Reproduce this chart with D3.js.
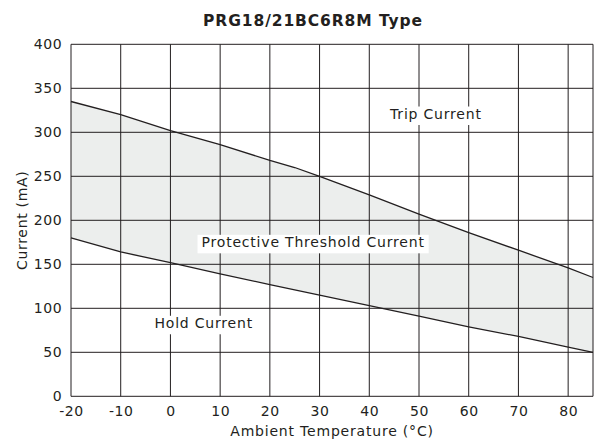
<!DOCTYPE html>
<html>
<head>
<meta charset="utf-8">
<script src="https://cdn.jsdelivr.net/npm/d3@7"></script>
<style>
  html, body { margin: 0; padding: 0; background: #fff; }
  svg { display: block; }
  text { font-family: "DejaVu Sans", sans-serif; fill: #231f20; }
</style>
</head>
<body>
<div id="chart"></div>
<script>
// ---- data ----
const tempTicks = [-20, -10, 0, 10, 20, 30, 40, 50, 60, 70, 80];
const currentTicks = [0, 50, 100, 150, 200, 250, 300, 350, 400];
const tripTemp    = [-20, -10, 0, 10, 20, 25, 30, 40, 50, 60, 70, 80, 85];
const tripCurrent = [335, 320, 302, 286, 268, 260, 250, 229, 207, 186, 166, 146, 135];
const holdTemp    = [-20, -10, 0, 10, 20, 30, 40, 50, 60, 70, 80, 85];
const holdCurrent = [180, 164, 152, 139, 127, 115, 103, 91, 79, 68, 56, 50];
const title = "PRG18/21BC6R8M Type";
const xTitle = "Ambient Temperature (°C)";
const yTitle = "Current (mA)";
const regionLabels = ["Trip Current", "Protective Threshold Current", "Hold Current"];

// ---- layout ----
const W = 597, H = 446;
const m = { left: 71, right: 4, top: 44.3, bottom: 49.7 };
const ink = "#231f20";

const svg = d3.select("#chart").append("svg").attr("width", W).attr("height", H);

const x = d3.scaleLinear().domain([-20, 85]).range([m.left, W - m.right]);
const y = d3.scaleLinear().domain([0, 400]).range([H - m.bottom, m.top]);

const trip = tripTemp.map((t, i) => ({ t, v: tripCurrent[i] }));
const hold = holdTemp.map((t, i) => ({ t, v: holdCurrent[i] }));

// shaded band between hold and trip
const bandTemps = Array.from(new Set([...tripTemp, ...holdTemp])).sort((a, b) => a - b);
const interp = (arr, t) => {
  for (let i = 0; i < arr.length - 1; i++) {
    if (t >= arr[i].t && t <= arr[i + 1].t) {
      const f = (t - arr[i].t) / (arr[i + 1].t - arr[i].t);
      return arr[i].v + f * (arr[i + 1].v - arr[i].v);
    }
  }
  return arr[arr.length - 1].v;
};
const band = bandTemps.map(t => ({ t, hi: interp(trip, t), lo: interp(hold, t) }));
svg.append("path")
  .datum(band)
  .attr("fill", "#eceeed")
  .attr("d", d3.area().x(d => x(d.t)).y0(d => y(d.lo)).y1(d => y(d.hi)));

// grid
const grid = svg.append("g").attr("stroke", ink).attr("stroke-width", 1);
grid.selectAll("line.v").data(tempTicks.concat([85])).join("line")
  .attr("x1", d => x(d)).attr("x2", d => x(d))
  .attr("y1", y(0)).attr("y2", y(400));
grid.selectAll("line.h").data(currentTicks).join("line")
  .attr("x1", x(-20)).attr("x2", x(85))
  .attr("y1", d => y(d)).attr("y2", d => y(d));

// data lines
const line = d3.line().x(d => x(d.t)).y(d => y(d.v));
[trip, hold].forEach(s => {
  svg.append("path").datum(s)
    .attr("fill", "none").attr("stroke", ink).attr("stroke-width", 1.3)
    .attr("d", line);
});

// axes (labels only)
const xAxis = svg.append("g")
  .attr("transform", `translate(0,${y(0)})`)
  .call(d3.axisBottom(x).tickValues(tempTicks).tickSize(0).tickPadding(9.8).tickFormat(d3.format("d")));
const yAxis = svg.append("g")
  .attr("transform", `translate(${x(-20)},0)`)
  .call(d3.axisLeft(y).tickValues(currentTicks).tickSize(0).tickPadding(8.7));
[xAxis, yAxis].forEach(a => {
  a.select(".domain").remove();
  a.selectAll("text")
    .style("font-family", '"DejaVu Sans", sans-serif')
    .style("font-size", "14px")
    .style("letter-spacing", "0.6px")
    .attr("fill", ink);
});
xAxis.selectAll("text").text(d => d < 0 ? "-" + Math.abs(d) : d);

// titles
svg.append("text")
  .attr("x", 313).attr("y", 26.4)
  .attr("text-anchor", "middle")
  .style("font-size", "15.5px").style("font-weight", "bold").style("letter-spacing", "0.9px")
  .text(title);

svg.append("text")
  .attr("x", (x(-20) + x(85)) / 2).attr("y", 436)
  .attr("text-anchor", "middle")
  .style("font-size", "14px").style("letter-spacing", "0.8px")
  .text(xTitle);

svg.append("text")
  .attr("transform", `translate(26.5,${(y(0) + y(400)) / 2}) rotate(-90)`)
  .attr("text-anchor", "middle")
  .style("font-size", "14px").style("letter-spacing", "0.7px")
  .text(yTitle);

// region labels with white boxes (anchored in data coordinates)
const anchors = [[53.4, 315.1], [28.7, 169.3], [6.7, 77.3]];
regionLabels.forEach((lab, i) => {
  const g = svg.append("g");
  const rect = g.append("rect").attr("fill", "#fff");
  const t = g.append("text")
    .attr("x", x(anchors[i][0])).attr("y", y(anchors[i][1]))
    .attr("text-anchor", "middle")
    .style("font-size", "14px").style("letter-spacing", "0.8px")
    .text(lab);
  const b = t.node().getBBox();
  rect.attr("x", b.x - 4).attr("y", b.y + 0.5).attr("width", b.width + 8).attr("height", b.height + 2.5);
});
</script>
</body>
</html>
